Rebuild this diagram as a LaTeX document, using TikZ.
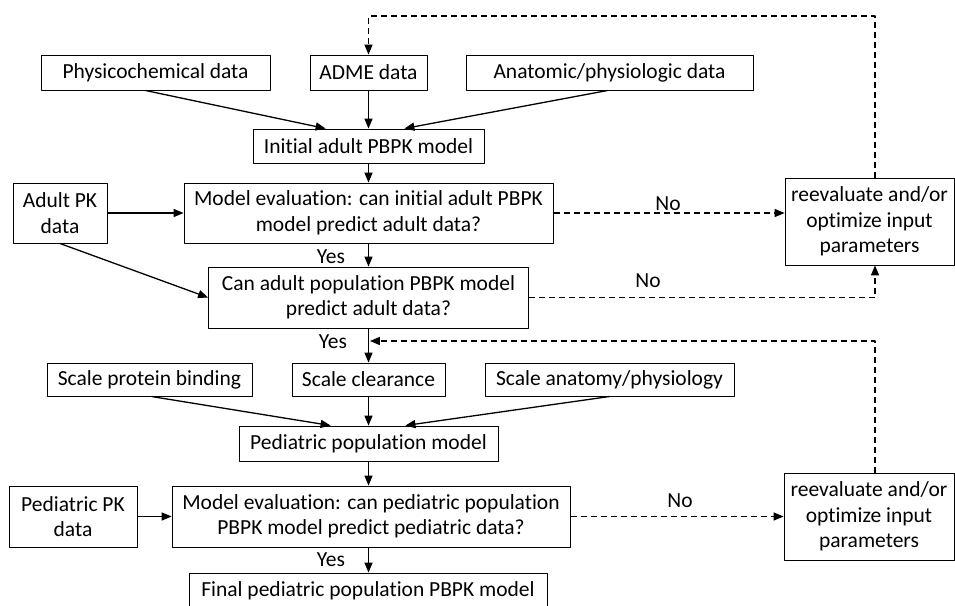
\documentclass[tikz,border=0pt]{standalone}
\usepackage{fontspec}
\setmainfont[Ligatures=NoCommon]{Carlito}
\usetikzlibrary{arrows}

\begin{document}
\begin{tikzpicture}[x=1pt,y=-1pt,line join=round,>=triangle 45,
  font=\fontsize{21.5}{25.5}\selectfont,
  box/.style={draw,line width=1pt,inner sep=0pt,align=center},
  flow/.style={->,line width=1.3pt},
  back/.style={->,line width=1.3pt,dash pattern=on 6pt off 4pt}]
  \useasboundingbox (0,0) rectangle (955,605);
  % adult part
  \node[box,minimum width=229pt,minimum height=35pt] (phys) at (155.5,72.5) {Physicochemical data};
  \node[box,minimum width=117pt,minimum height=35pt] (adme) at (368.5,72.5) {ADME data};
  \node[box,minimum width=287pt,minimum height=35pt] (anat) at (609.5,72.5) {Anatomic/physiologic data};
  \node[box,minimum width=231pt,minimum height=34pt] (init) at (368.5,146) {Initial adult PBPK model};
  \node[box,minimum width=94pt,minimum height=60pt] (adultpk) at (60,213) {Adult PK\\data};
  \node[box,minimum width=369pt,minimum height=60pt] (evala) at (368.5,213) {Model evaluation: can initial adult PBPK\\model predict adult data?};
  \node[box,minimum width=169pt,minimum height=87pt] (reev1) at (869.5,221.5) {reevaluate and/or\\optimize input\\parameters};
  \node[box,minimum width=320pt,minimum height=61pt] (canpop) at (368.5,297.5) {Can adult population PBPK model\\predict adult data?};
  % pediatric part
  \node[box,minimum width=205pt,minimum height=33pt] (sprot) at (149.5,379.5) {Scale protein binding};
  \node[box,minimum width=153pt,minimum height=33pt] (sclear) at (368.5,379.5) {Scale clearance};
  \node[box,minimum width=249pt,minimum height=33pt] (sanat) at (609.5,379.5) {Scale anatomy/physiology};
  \node[box,minimum width=259pt,minimum height=35pt] (pedpop) at (368.5,443.5) {Pediatric population model};
  \node[box,minimum width=128pt,minimum height=61pt] (pedpk) at (73,516.5) {Pediatric PK\\data};
  \node[box,minimum width=398pt,minimum height=61pt] (evalp) at (371,516.5) {Model evaluation: can pediatric population\\PBPK model predict pediatric data?};
  \node[box,minimum width=170pt,minimum height=87pt] (reev2) at (869,516.5) {reevaluate and/or\\optimize input\\parameters};
  \node[box,minimum width=358pt,minimum height=36pt] (final) at (368,591) {Final pediatric population PBPK model};
  % solid arrows
  \draw[flow] ([xshift=-10pt]phys.south) -- ([xshift=-43pt]init.north);
  \draw[flow] (adme.south) -- (init.north);
  \draw[flow] ([xshift=-2pt]anat.south) -- ([xshift=36pt]init.north);
  \draw[flow] (init.south) -- (evala.north);
  \draw[flow] (adultpk.east) -- (evala.west);
  \draw[flow] (adultpk.south) -- (canpop.west);
  \draw[flow] (evala.south) -- (canpop.north);
  \draw[flow] (canpop.south) -- (sclear.north);
  \draw[flow] ([xshift=2pt]sprot.south) -- ([xshift=-38pt]pedpop.north);
  \draw[flow] (sclear.south) -- (pedpop.north);
  \draw[flow] (sanat.south) -- ([xshift=37pt]pedpop.north);
  \draw[flow] (pedpop.south) -- (pedpop.south |- evalp.north);
  \draw[flow] (pedpk.east) -- (evalp.west);
  \draw[flow] (pedpop.south |- evalp.south) -- (pedpop.south |- final.north);
  % dashed feedback
  \coordinate (top) at (875,16);
  \coordinate (rejoin) at (370,341);
  \draw[back] ([xshift=5.5pt]reev1.north) |- (top) -| (adme.north);
  \draw[back] (evala.east) -- (evala.east -| reev1.west);
  \draw[back] (canpop.east) -| ([xshift=5.5pt]reev1.south);
  \draw[back] (evalp.east) -- (evalp.east -| reev2.west);
  \draw[back] ([xshift=6pt]reev2.north) |- (rejoin);
  % labels
  \node (yes1) at (331,257) {Yes};
  \node (yes2) at (333,342) {Yes};
  \node (yes3) at (331,560) {Yes};
  \node (no1) at (668,204) {No};
  \node (no2) at (648,281) {No};
  \node (no3) at (680,501) {No};
\end{tikzpicture}
\end{document}
